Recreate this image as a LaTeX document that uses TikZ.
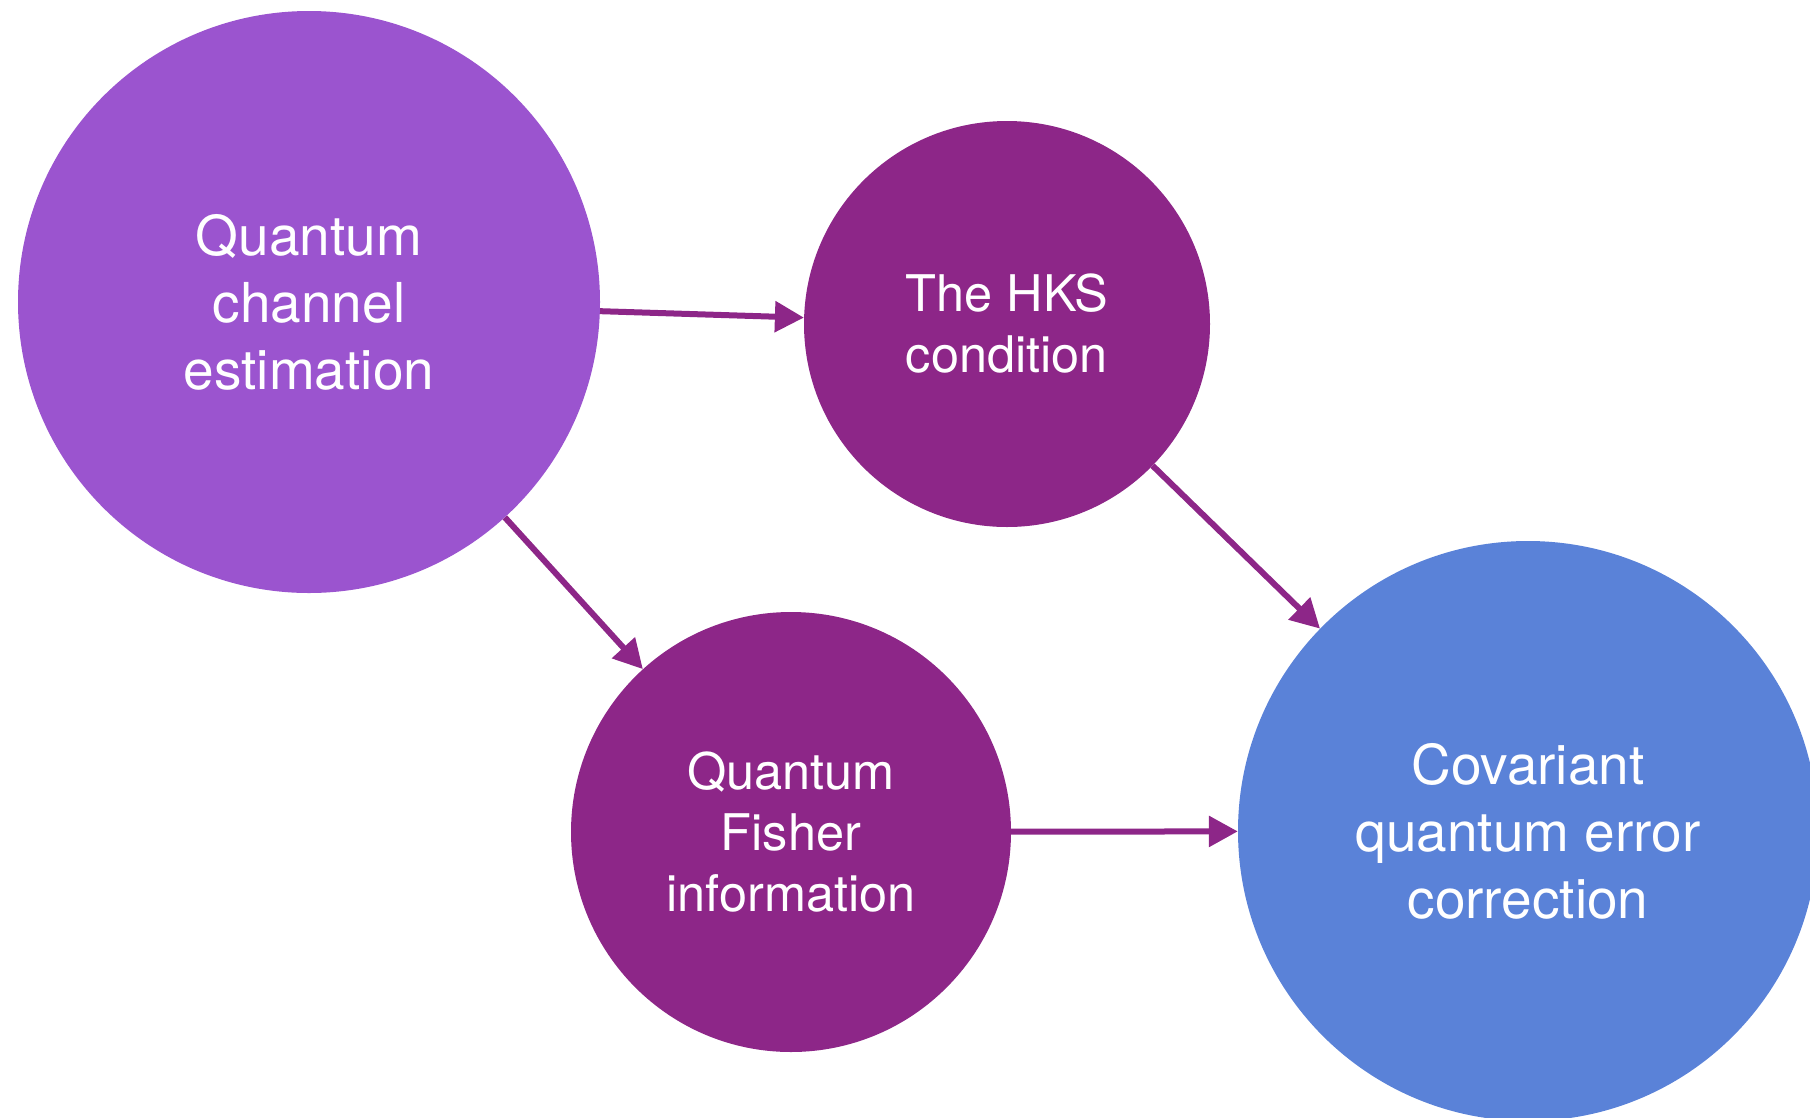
\documentclass[tikz,border=0pt]{standalone}
\usepackage{fontspec}
\setmainfont{TeX Gyre Heros}
\usetikzlibrary{arrows.meta}
\definecolor{lavender}{HTML}{9B54CF}
\definecolor{plum}{HTML}{8D2688}
\definecolor{cornflower}{HTML}{5A82D8}
\begin{document}
\begin{tikzpicture}[x=1pt,y=-1pt,
  topic/.style={circle, inner sep=0pt, text=white, align=center},
  bigtext/.style={font=\fontsize{55}{67}\selectfont},
  smalltext/.style={font=\fontsize{50.5}{61}\selectfont},
  connector/.style={draw=plum, line width=6pt,
    -{Triangle[length=29pt,width=30pt,fill=plum]}}]
\useasboundingbox (0,0) rectangle (1810,1117);
\clip (0,0) rectangle (1810,1117);

% topics
\node[topic, bigtext, fill=lavender, minimum size=582pt] (qce) at (309,302)
  {Quantum\\channel\\estimation};
\node[topic, smalltext, fill=plum, minimum size=406pt] (hks) at (1007,324)
  {The HKS\\condition};
\node[topic, smalltext, fill=plum, minimum size=440pt] (qfi) at (791,832)
  {Quantum\\Fisher\\information};
\node[topic, bigtext, fill=cornflower, minimum size=580pt] (cqec) at (1528,831)
  {Covariant\\quantum error\\correction};

% dependencies
\draw[connector] (qce) -- (hks);
\draw[connector] (qce) -- (qfi);
\draw[connector] (hks) -- (cqec);
\draw[connector] (qfi) -- (cqec);
\end{tikzpicture}
\end{document}
